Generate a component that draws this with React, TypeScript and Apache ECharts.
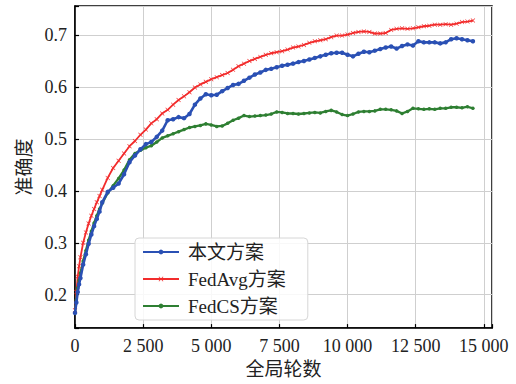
import React, { useEffect, useRef } from "react";
import * as echarts from "echarts";

const rounds = [0, 50, 100, 150, 200, 300, 400, 500, 600, 700, 800, 900, 1000,
  1200, 1400, 1600, 1800, 2000, 2200, 2400, 2600, 2800, 3000, 3200, 3400, 3600, 3800,
  4000, 4200, 4400, 4600, 4800, 5000, 5200, 5400, 5600, 5800, 6000, 6200, 6400, 6600,
  6800, 7000, 7200, 7400, 7600, 7800, 8000, 8200, 8400, 8600, 8800, 9000, 9200, 9400,
  9600, 9800, 10000, 10200, 10400, 10600, 10800, 11000, 11200, 11400, 11600, 11800,
  12000, 12200, 12400, 12600, 12800, 13000, 13200, 13400, 13600, 13800, 14000, 14200,
  14400, 14600];

const oursAcc = [0.165, 0.185, 0.205, 0.220, 0.232, 0.258, 0.278, 0.298, 0.316, 0.332, 0.346, 0.360, 0.378,
  0.398, 0.406, 0.414, 0.432, 0.455, 0.468, 0.480, 0.490, 0.494, 0.504, 0.516, 0.536, 0.538, 0.542,
  0.540, 0.548, 0.566, 0.578, 0.586, 0.584, 0.585, 0.592, 0.598, 0.604, 0.606, 0.612, 0.618, 0.624,
  0.628, 0.633, 0.635, 0.638, 0.641, 0.643, 0.645, 0.648, 0.650, 0.653, 0.656, 0.659, 0.662, 0.665,
  0.666, 0.666, 0.662, 0.659, 0.664, 0.668, 0.667, 0.670, 0.673, 0.676, 0.678, 0.674,
  0.679, 0.682, 0.680, 0.688, 0.686, 0.686, 0.686, 0.684, 0.686, 0.692, 0.694, 0.692,
  0.690, 0.688];

const fedAvgAcc = [0.170, 0.205, 0.235, 0.255, 0.272, 0.300, 0.320, 0.337, 0.352, 0.365, 0.378, 0.390, 0.402,
  0.425, 0.444, 0.458, 0.472, 0.486, 0.496, 0.508, 0.518, 0.530, 0.538, 0.549, 0.556, 0.566, 0.575,
  0.582, 0.590, 0.599, 0.605, 0.610, 0.615, 0.619, 0.623, 0.627, 0.633, 0.640, 0.645, 0.650, 0.654,
  0.658, 0.662, 0.665, 0.667, 0.669, 0.672, 0.676, 0.678, 0.681, 0.685, 0.688, 0.690, 0.692, 0.696,
  0.699, 0.699, 0.701, 0.704, 0.706, 0.707, 0.706, 0.703, 0.703, 0.704, 0.710, 0.712,
  0.713, 0.712, 0.713, 0.715, 0.717, 0.718, 0.720, 0.720, 0.721, 0.720, 0.722, 0.725,
  0.726, 0.728];

const fedCSAcc = [0.165, 0.190, 0.213, 0.228, 0.242, 0.265, 0.285, 0.305, 0.322, 0.338, 0.352, 0.365, 0.376,
  0.396, 0.410, 0.424, 0.440, 0.460, 0.472, 0.478, 0.483, 0.487, 0.494, 0.502, 0.506, 0.510, 0.514,
  0.518, 0.522, 0.524, 0.526, 0.529, 0.527, 0.524, 0.525, 0.530, 0.536, 0.540, 0.545, 0.543, 0.544,
  0.545, 0.546, 0.548, 0.552, 0.551, 0.549, 0.549, 0.548, 0.549, 0.550, 0.551, 0.550, 0.553, 0.555,
  0.552, 0.547, 0.545, 0.548, 0.552, 0.553, 0.553, 0.554, 0.557, 0.557, 0.556, 0.554,
  0.549, 0.553, 0.559, 0.558, 0.557, 0.558, 0.557, 0.559, 0.559, 0.561, 0.561, 0.560,
  0.562, 0.559];

const seriesNames = ["本文方案", "FedAvg方案", "FedCS方案"];
const xAxisTitle = "全局轮数";
const yAxisTitle = "准确度";

const FONT = "'Liberation Serif', 'Times New Roman', 'Noto Sans CJK SC', serif";
const CROSS = "path://M0,1L1,0L5,4L9,0L10,1L6,5L10,9L9,10L5,6L1,10L0,9L4,5Z";

function fmtX(v: number): string {
  if (Math.abs(v % 2500) > 1e-6) return "";
  const s = String(Math.round(v));
  return s.replace(/\B(?=(\d{3})+(?!\d))/g, " ");
}
function fmtY(v: number): string {
  const t = v * 10;
  if (Math.abs(t - Math.round(t)) > 1e-6) return "";
  return v.toFixed(1);
}

export default function App() {
  const ref = useRef<HTMLDivElement>(null);
  useEffect(() => {
    if (!ref.current) return;
    const chart = echarts.init(ref.current, undefined, { renderer: "svg" });
    const mk = (vals: number[]) => rounds.map((r, i) => [r, vals[i]]);
    chart.setOption({
      animation: false,
      backgroundColor: "#fff",
      textStyle: { fontFamily: FONT },
      grid: {
        left: 75, right: 24, top: 6, bottom: 53,
        show: true, borderColor: "#000", borderWidth: 1.5, backgroundColor: "transparent",
      },
      xAxis: {
        type: "value", min: 0, max: 15300, interval: 2500,
        name: xAxisTitle, nameLocation: "middle", nameGap: 30,
        nameTextStyle: { fontSize: 19, color: "#222", fontFamily: FONT },
        axisLine: { show: true, lineStyle: { color: "#000", width: 1.5 } },
        axisTick: { show: true, inside: true, length: 4, lineStyle: { color: "#000", width: 1.2 } },
        axisLabel: { formatter: fmtX, fontSize: 18, color: "#222", margin: 9, fontFamily: FONT },
        splitLine: { show: true, lineStyle: { color: "#cfcfcf", width: 1 } },
      },
      yAxis: {
        type: "value", min: 0.1357, max: 0.756, minInterval: 0.1, maxInterval: 0.1,
        name: yAxisTitle, nameLocation: "middle", nameGap: 41, nameRotate: 90,
        nameTextStyle: { fontSize: 19, color: "#222", fontFamily: FONT },
        axisLine: { show: true, lineStyle: { color: "#000", width: 1.5 } },
        axisTick: { show: true, inside: true, length: 4, lineStyle: { color: "#000", width: 1.2 } },
        axisLabel: { formatter: fmtY, fontSize: 18, color: "#222", margin: 8, fontFamily: FONT },
        splitLine: { show: true, lineStyle: { color: "#cfcfcf", width: 1 } },
      },
      legend: {
        orient: "vertical", left: 135, top: 238,
        itemWidth: 36, itemHeight: 6, itemGap: 7,
        padding: [4, 22, 4, 7],
        backgroundColor: "rgba(255,255,255,0.85)",
        borderColor: "#d6d6d6", borderWidth: 1, borderRadius: 4,
        textStyle: { fontSize: 19, lineHeight: 20, color: "#222", fontFamily: FONT, padding: [0, 0, 0, 4] },
        data: seriesNames,
      },
      series: [
        {
          name: seriesNames[0], type: "line", data: mk(oursAcc),
          symbol: "circle", symbolSize: 4.5, showSymbol: true,
          lineStyle: { color: "#2a50b4", width: 2.6 },
          itemStyle: { color: "#2a50b4" }, z: 3,
        },
        {
          name: seriesNames[1], type: "line", data: mk(fedAvgAcc),
          symbol: CROSS, symbolSize: 4.5, showSymbol: true,
          lineStyle: { color: "#f22c2c", width: 1.8 },
          itemStyle: { color: "#f22c2c" }, z: 2,
        },
        {
          name: seriesNames[2], type: "line", data: mk(fedCSAcc),
          symbol: "circle", symbolSize: 3.5, showSymbol: true,
          lineStyle: { color: "#2e7f32", width: 2.3 },
          itemStyle: { color: "#2e7f32" }, z: 2,
        },
      ],
    });
    return () => chart.dispose();
  }, []);
  return <div ref={ref} style={{ position: "fixed", left: 0, top: 0, width: 516, height: 384 }} />;
}
